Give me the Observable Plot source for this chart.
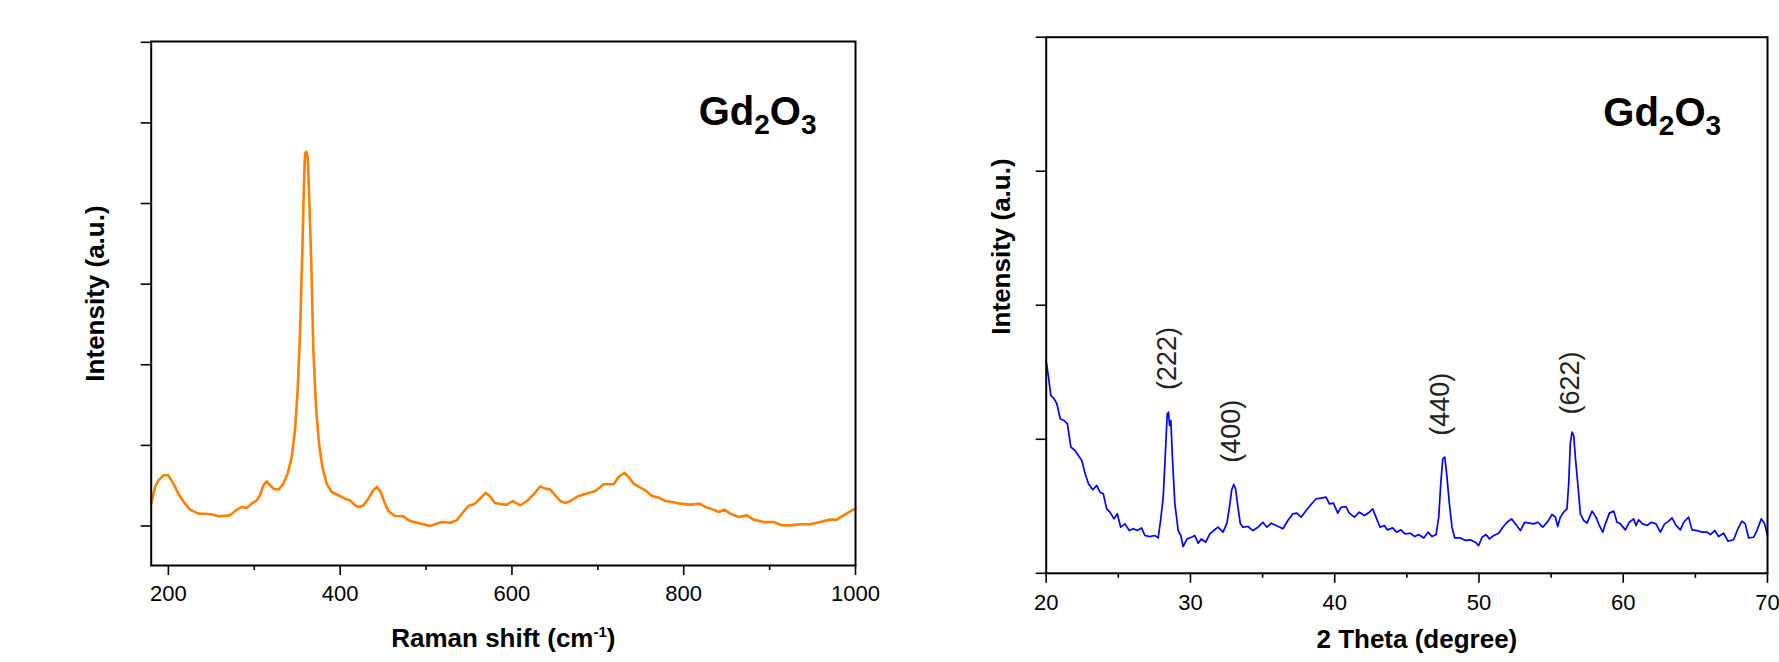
<!DOCTYPE html>
<html><head><meta charset="utf-8">
<script src="https://cdn.jsdelivr.net/npm/d3@7"></script>
<script src="https://cdn.jsdelivr.net/npm/@observablehq/plot@0.6"></script>
<style>
html,body{margin:0;padding:0;background:#fff;}
#wrap{position:relative;width:1779px;height:662px;overflow:hidden;background:#fff;}
#left{position:absolute;left:0;top:0;}
#right{position:absolute;left:940px;top:0;}
svg{overflow:visible;}
</style></head>
<body><div id="wrap"><div id="left"></div><div id="right"></div></div>
<script>
// ---------- Raman data ----------
const ramanShift = [180,184.5,188.4,194.2,200,205.8,211.6,219.4,225.2,234.9,250.4,258.2,271.8,277.6,285.4,291.2,297,302.8,306.7,310.6,314.5,318.3,323.4,328.8,333.9,338.9,343.6,347.4,350.5,353.3,356,357.9,359.1,360.6,362.2,364.1,366.5,368.8,371.9,375.4,379.3,384.3,390.1,397.9,405.6,411.5,417.3,421.9,427,432.8,438.6,442.9,447.2,451.4,456.1,463.8,473.5,481.3,491,504.6,510.4,518.2,527.9,535.6,543.4,549.2,557,562.8,569.4,574.4,580.2,591.1,594.3,601.2,609.8,617.5,625.3,633.1,638.9,644.7,650.5,656.3,662.2,668,677.7,687.4,697.1,702.9,706.8,718.4,724.2,730.8,735.9,741.7,749.5,755.3,763,770.8,778.6,786.3,796,807.7,818.1,825.1,834.8,840.6,847.2,854.2,863.9,873.6,881.4,893,904.7,914.4,924.1,935.7,947.3,959,970.6,978.4,986.1,993.9,1000];
const ramanIntensity = [277,484,566,629,629,525,401,277,203,153,145,120,132,186,236,224,277,318,381,505,554,505,455,455,525,650,856,1187,1683,2387,3420,4248,4620,4641,4579,4041,3214,2180,1476,1021,732,525,422,381,339,318,256,236,256,339,443,484,422,298,186,124,120,62,37,0,21,50,41,70,174,248,277,339,410,368,286,265,265,310,257,310,393,492,464,451,381,310,286,310,373,402,435,484,517,517,608,658,608,526,476,443,373,352,310,298,277,265,277,236,203,174,203,153,112,132,79,50,50,8,8,21,21,50,79,79,132,182,215];
const ramanTicks = [200,400,600,800,1000];
const ramanMinorTicks = [300,500,700,900];
const ramanYTicks = [0,1000,2000,3000,4000,5000,6000];

// ---------- XRD data ----------
const xrdTheta = [20.0,20.16,20.32,20.55,20.74,20.97,21.24,21.47,21.71,22.0,22.23,22.47,22.7,22.93,23.23,23.5,23.73,23.96,24.19,24.42,24.7,24.93,25.16,25.46,25.76,26.04,26.31,26.61,26.84,27.19,27.53,27.76,27.93,28.11,28.25,28.39,28.48,28.55,28.64,28.76,28.92,29.15,29.33,29.49,29.77,30.07,30.3,30.53,30.76,31.06,31.34,31.61,31.91,32.26,32.53,32.72,32.86,33.0,33.13,33.29,33.46,33.64,33.99,34.33,34.68,35.02,35.3,35.6,35.94,36.41,36.75,37.1,37.37,37.67,38.02,38.36,38.71,39.05,39.4,39.63,39.91,40.21,40.44,40.78,41.01,41.36,41.71,42.06,42.4,42.63,42.86,43.14,43.43,43.66,44.01,44.29,44.59,44.88,45.25,45.55,45.82,46.17,46.47,46.75,47.03,47.21,47.35,47.49,47.63,47.76,47.95,48.13,48.32,48.71,49.06,49.4,49.75,49.98,50.21,50.49,50.72,51.02,51.37,51.65,51.95,52.25,52.52,52.87,53.17,53.49,53.79,54.09,54.42,54.79,55.06,55.3,55.46,55.64,55.87,56.1,56.22,56.33,56.45,56.57,56.68,56.87,57.03,57.26,57.49,57.84,58.11,58.34,58.58,58.76,59.04,59.34,59.57,59.8,60.15,60.42,60.72,60.89,61.07,61.35,61.65,61.95,62.27,62.57,62.87,63.15,63.38,63.66,63.96,64.19,64.53,64.77,65.11,65.46,65.81,66.04,66.34,66.61,66.96,67.26,67.65,67.95,68.23,68.46,68.69,69.04,69.27,69.57,69.8,70.0];
const xrdIntensity = [1583,1464,1327,1302,1265,1153,1140,1115,941,916,879,842,742,668,623,655,605,593,481,456,406,444,344,369,319,332,319,339,282,274,282,264,394,568,867,1190,1202,1103,1140,842,518,319,282,200,257,269,282,225,257,232,294,319,344,307,374,506,623,663,630,493,369,344,349,319,344,381,344,374,357,332,394,444,449,419,469,513,556,561,568,518,523,449,493,498,449,419,456,431,456,481,419,344,357,324,339,307,324,294,299,274,289,264,307,274,289,419,668,854,867,742,518,344,264,264,245,250,232,207,269,289,257,282,299,344,381,406,369,319,381,374,369,381,344,389,439,419,349,419,456,481,668,966,1053,1028,867,643,444,394,374,464,419,357,307,369,449,464,381,369,324,381,406,357,399,369,357,381,369,307,369,389,414,357,324,381,419,324,319,307,307,289,319,274,299,240,250,332,389,369,264,269,319,406,369,282];
const xrdTicks = [20,30,40,50,60,70];
const xrdMinorTicks = [25,35,45,55,65];
const xrdYTicks = [0,1000,2000,3000,4000];

// peak (hkl) annotations
const hklLabels = ["(222)","(400)","(440)","(622)"];
const hklTheta = [28.4, 32.85, 47.32, 56.36];
const hklIntensity = [1603, 1060, 1261, 1420];

// compound label anchors (data units)
const formula = "Gd2O3";
const ramanFormulaAt = [886, 4976];
const xrdFormulaAt = [62.7, 3339];

const FONT = "Arial, 'Liberation Sans', Helvetica, sans-serif";

const ramanRows = ramanShift.map((x, i) => ({x, y: ramanIntensity[i]}));
const xrdRows = xrdTheta.map((x, i) => ({x, y: xrdIntensity[i]}));
const hklRows = hklLabels.map((label, i) => ({label, x: hklTheta[i], y: hklIntensity[i]}));

function richText(svg) {
  d3.select(svg).selectAll("text").filter(function () { return this.textContent === formula; })
    .each(function () {
      const t = d3.select(this);
      t.text(null);
      t.append("tspan").text("Gd");
      t.append("tspan").attr("font-size", 28).attr("dy", 9).text("2");
      t.append("tspan").attr("font-size", 40).attr("dy", -9).text("O");
      t.append("tspan").attr("font-size", 28).attr("dy", 9).text("3");
    });
  d3.select(svg).selectAll("text").filter(function () { return this.textContent === "Raman shift (cm-1)"; })
    .each(function () {
      const t = d3.select(this);
      t.text(null);
      t.append("tspan").text("Raman shift (cm");
      t.append("tspan").attr("font-size", 15).attr("dy", -10).text("-1");
      t.append("tspan").attr("font-size", 26).attr("dy", 10).text(")");
    });
}

const ramanChart = Plot.plot({
  width: 900, height: 662,
  marginLeft: 150.7, marginRight: 45, marginTop: 41, marginBottom: 97,
  style: {fontFamily: FONT, color: "black", background: "white", overflow: "visible"},
  x: {domain: [180, 1000]},
  y: {domain: [-490, 6010]},
  marks: [
    Plot.line(ramanRows, {x: "x", y: "y", stroke: "#FF7F00", strokeWidth: 2.6}),
    Plot.frame({stroke: "black", strokeWidth: 2}),
    Plot.axisX(ramanTicks, {tickSize: 10, tickPadding: 10, fontSize: 22, strokeWidth: 1.6, label: null, tickFormat: d => String(d)}),
    Plot.axisX(ramanMinorTicks, {tickSize: 5, tickFormat: () => "", strokeWidth: 1.6, label: null}),
    Plot.axisY(ramanYTicks, {tickSize: 10, tickFormat: () => "", strokeWidth: 1.6, label: null}),
    Plot.text(["Raman shift (cm-1)"], {frameAnchor: "bottom", dy: 73, fontSize: 26, fontWeight: "bold", lineAnchor: "middle", fill: "black"}),
    Plot.text(["Intensity (a.u.)"], {frameAnchor: "left", dx: -56, dy: -10, rotate: -90, fontSize: 26, fontWeight: "bold", textAnchor: "middle", lineAnchor: "middle", fill: "black"}),
    Plot.text([ramanFormulaAt], {x: d => d[0], y: d => d[1], text: () => formula, fontSize: 40, fontWeight: "bold", textAnchor: "middle", lineAnchor: "bottom", fill: "black"})
  ]
});
richText(ramanChart);
document.getElementById("left").appendChild(ramanChart);

const xrdChart = Plot.plot({
  width: 839, height: 662,
  marginLeft: 105.7, marginRight: 12, marginTop: 36.7, marginBottom: 89.2,
  style: {fontFamily: FONT, color: "black", background: "white", overflow: "visible"},
  x: {domain: [20, 70]},
  y: {domain: [0, 4000]},
  marks: [
    Plot.line(xrdRows, {x: "x", y: "y", stroke: "#0000FF", strokeWidth: 1.7}),
    Plot.frame({stroke: "black", strokeWidth: 2}),
    Plot.axisX(xrdTicks, {tickSize: 10, tickPadding: 11, fontSize: 22, strokeWidth: 1.6, label: null, tickFormat: d => String(d)}),
    Plot.axisX(xrdMinorTicks, {tickSize: 5, tickFormat: () => "", strokeWidth: 1.6, label: null}),
    Plot.axisY(xrdYTicks, {tickSize: 10, tickFormat: () => "", strokeWidth: 1.6, label: null}),
    Plot.text(hklRows, {x: "x", y: "y", text: "label", rotate: -90, fontSize: 27, fill: "#222", textAnchor: "middle", lineAnchor: "middle"}),
    Plot.text(["2 Theta (degree)"], {frameAnchor: "bottom", dx: 10, dy: 66, fontSize: 26, fontWeight: "bold", lineAnchor: "middle", fill: "black"}),
    Plot.text(["Intensity (a.u.)"], {frameAnchor: "left", dx: -44.4, dy: -58.75, rotate: -90, fontSize: 26, fontWeight: "bold", textAnchor: "middle", lineAnchor: "middle", fill: "black"}),
    Plot.text([xrdFormulaAt], {x: d => d[0], y: d => d[1], text: () => formula, fontSize: 40, fontWeight: "bold", textAnchor: "middle", lineAnchor: "bottom", fill: "black"})
  ]
});
richText(xrdChart);
document.getElementById("right").appendChild(xrdChart);
</script>
</body></html>
